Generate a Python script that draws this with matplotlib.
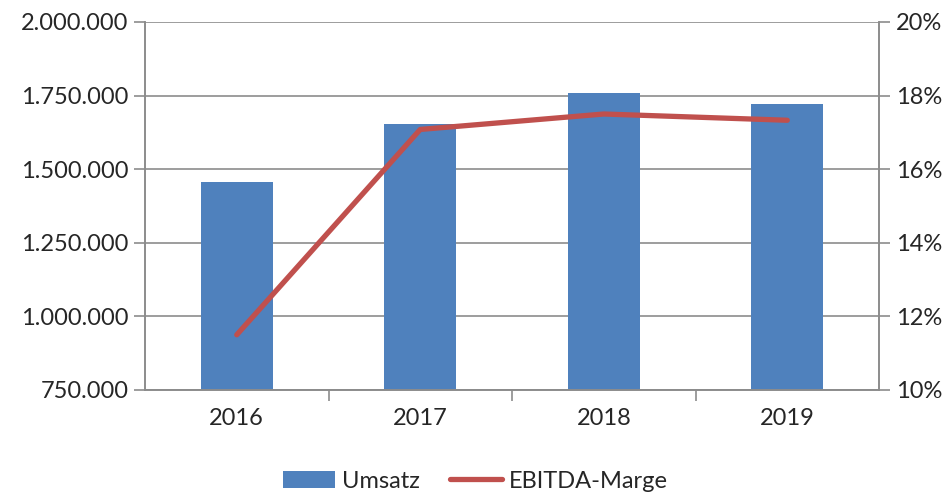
import matplotlib.pyplot as plt
import matplotlib.ticker as mticker
from matplotlib.patches import Patch
from matplotlib.lines import Line2D

# Daten
jahre = ['2016', '2017', '2018', '2019']
umsatz = [1455000, 1655000, 1758000, 1722000]
ebitda_marge = [11.5, 17.08, 17.5, 17.33]

plt.rcParams['font.family'] = ['Lato', 'DejaVu Sans']

blau = '#4f81bd'
rot = '#c0504d'
grau = '#8c8c8c'
fs = 17

fig = plt.figure(figsize=(9.51, 4.95), dpi=100)
ax = fig.add_axes([145 / 951, 105 / 495, 734 / 951, 368 / 495])
ax2 = ax.twinx()

x = list(range(len(jahre)))
ax.bar(x, umsatz, width=0.39, color=blau, zorder=2)
ax.set_xlim(-0.5, 3.5)
ax.set_ylim(750000, 2000000)
ax.yaxis.set_major_locator(mticker.MultipleLocator(250000))
ax.yaxis.set_major_formatter(mticker.FuncFormatter(lambda v, p: f'{int(v):,}'.replace(',', '.')))
ax.grid(axis='y', color=grau, linewidth=1.2, zorder=0)
ax.set_axisbelow(True)

# Kategorie-Ticks zwischen den Balken
ax.set_xticks(x)
ax.set_xticklabels(jahre)
ax.set_xticks([0.5, 1.5, 2.5], minor=True)
ax.tick_params(axis='x', which='major', length=0, pad=13, labelsize=fs, colors='#262626')
ax.tick_params(axis='x', which='minor', length=8, width=1.2, color=grau, direction='out')
ax.tick_params(axis='y', length=8, width=1.2, color=grau, labelsize=fs, labelcolor='#262626', pad=4)

ax2.plot(x, ebitda_marge, color=rot, linewidth=3.8, solid_capstyle='round',
         solid_joinstyle='round', zorder=3)
ax2.set_ylim(10, 20)
ax2.yaxis.set_major_locator(mticker.MultipleLocator(2))
ax2.yaxis.set_major_formatter(mticker.FuncFormatter(lambda v, p: f'{int(v)}%'))
ax2.tick_params(axis='y', length=8, width=1.2, color=grau, labelsize=fs, labelcolor='#262626', pad=4)

for a in (ax, ax2):
    a.spines['top'].set_visible(False)
    for s in ('left', 'right', 'bottom'):
        a.spines[s].set_color(grau)
        a.spines[s].set_linewidth(1.2)

handles = [Patch(facecolor=blau, label='Umsatz'),
           Line2D([0], [0], color=rot, linewidth=3.8, solid_capstyle='round', label='EBITDA-Marge')]
fig.legend(handles=handles, loc='center', bbox_to_anchor=(0.5, 14 / 495), ncol=2,
           frameon=False, fontsize=fs, handlelength=2.2, handleheight=0.7,
           handletextpad=0.3, columnspacing=1.3, labelcolor='#262626')

fig.savefig('out.png', dpi=100)
